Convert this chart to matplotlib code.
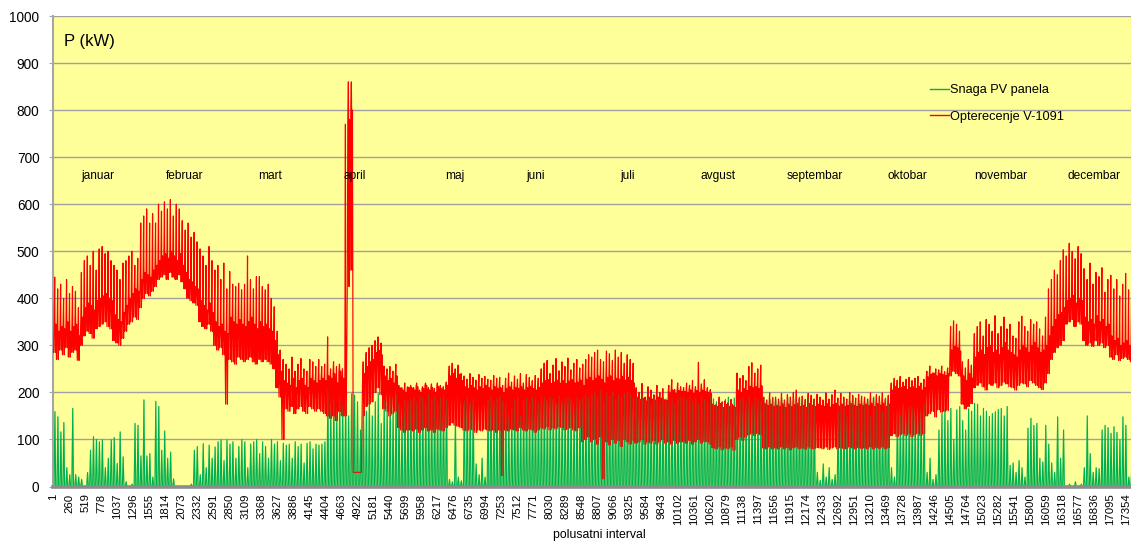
import matplotlib

matplotlib.use("Agg")
import matplotlib.pyplot as plt
import numpy as np
from matplotlib.lines import Line2D

plt.rcParams["font.family"] = ["Liberation Sans", "DejaVu Sans"]

# Daily load of V-1091 (kW): night minimum, daytime level, midday peak
load_night = [
    # jan
    285, 270, 290, 280, 295, 275, 285, 290, 268, 300, 320, 330, 325, 315, 335, 340,
    345, 350, 340, 335, 310, 305, 300, 315, 330, 345, 350, 360, 355, 380, 400,
    # feb
    410, 405, 415, 425, 440, 445, 450, 440, 455, 445, 440, 450, 435, 420, 400, 395,
    390, 385, 350, 340, 335, 345, 330, 300, 290, 295, 280, 175,
    # mar
    270, 265, 260, 275, 270, 265, 270, 275, 265, 260, 270, 265, 270, 265, 260, 250,
    210, 190, 100, 165, 160, 170, 155, 165, 170, 160, 155, 170, 165, 160, 165,
    # apr
    160, 155, 150, 145, 150, 140, 160, 150, 150, 425, 460, 30, 30, 30, 150, 170,
    175, 180, 200, 210, 195, 165, 160, 150, 155, 160, 125, 120, 115, 120,
    # may
    120, 118, 122, 115, 120, 125, 118, 120, 115, 122, 120, 118, 125, 130, 135, 130,
    128, 125, 120, 118, 122, 120, 115, 120, 118, 122, 120, 118, 120, 115, 120,
    # jun
    23, 120, 118, 122, 120, 118, 125, 120, 118, 122, 120, 115, 120, 125, 122, 127,
    120, 125, 122, 127, 125, 120, 122, 125, 120, 118, 125, 95, 100, 105,
    # jul
    95, 100, 90, 105, 16, 95, 88, 100, 92, 98, 85, 100, 95, 90, 98, 92,
    95, 100, 90, 95, 92, 98, 90, 95, 100, 92, 95, 90, 98, 92, 95,
    # aug
    95, 92, 98, 90, 95, 100, 92, 96, 95, 90, 82, 80, 84, 78, 82, 80,
    84, 77, 100, 105, 98, 105, 110, 112, 108, 113, 110, 82, 80, 84, 80,
    # sep
    82, 80, 84, 80, 83, 78, 82, 84, 80, 82, 79, 84, 81, 80, 83, 82,
    80, 84, 79, 82, 84, 80, 83, 81, 80, 84, 82, 80, 83, 81,
    # oct
    82, 80, 84, 80, 83, 81, 84, 80, 82, 108, 112, 106, 110, 113, 108, 112,
    106, 110, 113, 108, 112, 150, 155, 160, 148, 163, 158, 160, 162, 235, 245,
    # nov
    240, 235, 175, 165, 170, 176, 210, 215, 220, 212, 205, 218, 215, 220, 210, 215,
    222, 218, 212, 210, 205, 215, 220, 218, 212, 225, 220, 215, 210, 206,
    # dec
    220, 240, 270, 285, 295, 300, 310, 345, 350, 355, 340, 350, 345, 310, 300, 305,
    298, 310, 300, 305, 295, 300, 275, 270, 280, 268, 272, 275, 270, 265, 270,
]

load_day = [
    # jan
    345, 330, 340, 335, 350, 330, 340, 345, 320, 360, 380, 390, 385, 375, 395, 400,
    405, 410, 400, 395, 365, 355, 350, 370, 385, 400, 410, 420, 415, 440, 455,
    # feb
    450, 445, 460, 470, 480, 490, 495, 485, 500, 490, 480, 495, 470, 455, 440, 435,
    425, 420, 395, 385, 375, 390, 370, 350, 340, 345, 330, 325,
    # mar
    360, 350, 345, 355, 345, 340, 350, 360, 345, 335, 350, 340, 345, 335, 330, 310,
    280, 245, 225, 220, 215, 230, 210, 225, 230, 215, 210, 230, 225, 220, 225,
    # apr
    230, 225, 235, 230, 240, 220, 245, 230, 235, 780, 800, 30, 30, 30, 240, 255,
    265, 270, 285, 290, 280, 235, 225, 230, 220, 235, 210, 205, 200, 210,
    # may
    210, 205, 212, 200, 208, 215, 205, 210, 200, 212, 208, 205, 215, 235, 240, 230,
    238, 225, 212, 208, 215, 210, 205, 212, 208, 215, 210, 205, 212, 208, 210,
    # jun
    200, 208, 212, 205, 210, 208, 212, 205, 210, 212, 208, 205, 210, 220, 225, 227,
    219, 222, 226, 220, 225, 219, 224, 227, 220, 222, 226, 215, 228, 232,
    # jul
    225, 230, 235, 228, 220, 232, 235, 225, 230, 228, 234, 226, 232, 225, 220, 190,
    185, 188, 182, 190, 186, 184, 190, 188, 185, 183, 200, 205, 198, 204, 202,
    # aug
    202, 200, 205, 198, 204, 200, 205, 202, 200, 198, 172, 170, 176, 168, 174, 170,
    175, 168, 205, 200, 208, 204, 213, 210, 212, 208, 214, 176, 172, 175, 170,
    # sep
    172, 170, 176, 168, 175, 170, 174, 177, 170, 172, 168, 176, 173, 170, 175, 172,
    170, 176, 169, 174, 177, 171, 175, 170, 172, 176, 173, 170, 175, 172,
    # oct
    175, 172, 177, 170, 176, 173, 177, 170, 175, 205, 212, 208, 210, 213, 206, 210,
    212, 208, 213, 205, 210, 233, 238, 241, 235, 240, 238, 236, 240, 290, 298,
    # nov
    295, 288, 235, 225, 240, 230, 275, 285, 290, 280, 295, 300, 285, 290, 280, 295,
    306, 290, 285, 280, 275, 290, 300, 295, 285, 300, 306, 295, 285, 290,
    # dec
    300, 320, 340, 355, 365, 370, 380, 395, 400, 406, 390, 400, 395, 360, 350, 355,
    345, 363, 350, 355, 340, 345, 320, 310, 315, 300, 305, 310, 300, 295, 305,
]

load_peak = [
    # jan
    445, 420, 430, 400, 440, 410, 425, 415, 380, 455, 480, 490, 470, 500, 460, 505,
    510, 495, 500, 480, 470, 460, 440, 475, 480, 490, 500, 470, 485, 560, 575,
    # feb
    590, 560, 580, 560, 600, 585, 605, 590, 610, 575, 600, 590, 565, 545, 560, 530,
    540, 520, 505, 490, 470, 510, 480, 460, 470, 440, 475, 420,
    # mar
    457, 430, 425, 432, 418, 430, 490, 440, 420, 446, 446, 425, 418, 430, 400, 382,
    330, 290, 270, 260, 250, 275, 245, 260, 272, 250, 245, 270, 265, 255, 270,
    # apr
    255, 260, 318, 250, 265, 255, 260, 250, 770, 860, 860, 30, 30, 30, 265, 285,
    295, 300, 310, 318, 305, 256, 250, 255, 245, 260, 215, 210, 220, 212,
    # may
    215, 210, 220, 205, 212, 220, 210, 218, 208, 220, 215, 212, 222, 256, 262, 250,
    258, 240, 235, 228, 240, 232, 226, 238, 230, 234, 228, 226, 236, 230, 232,
    # jun
    215, 230, 241, 222, 235, 228, 240, 220, 238, 232, 225, 236, 230, 250, 262, 268,
    240, 258, 272, 246, 265, 255, 273, 248, 262, 270, 252, 260, 270, 280,
    # jul
    275, 285, 290, 270, 265, 288, 282, 268, 290, 275, 285, 262, 280, 270, 262, 210,
    200, 219, 190, 212, 205, 195, 215, 200, 208, 184, 215, 227, 206, 220, 212,
    # aug
    210, 220, 215, 225, 212, 264, 218, 227, 210, 206, 176, 175, 190, 180, 182, 178,
    185, 172, 241, 230, 236, 225, 255, 263, 241, 250, 258, 190, 184, 199, 188,
    # sep
    190, 186, 198, 184, 195, 190, 200, 205, 188, 192, 185, 198, 194, 186, 196, 190,
    184, 199, 186, 195, 205, 188, 198, 190, 186, 200, 194, 188, 196, 192,
    # oct
    190, 186, 199, 188, 195, 192, 199, 186, 194, 220, 230, 226, 234, 222, 228, 232,
    225, 230, 234, 220, 228, 245, 256, 240, 250, 248, 256, 244, 252, 340, 352,
    # nov
    345, 330, 265, 252, 270, 258, 325, 340, 350, 320, 355, 345, 330, 363, 325, 340,
    360, 335, 345, 320, 315, 350, 362, 340, 330, 355, 345, 350, 335, 320,
    # dec
    360, 420, 440, 460, 450, 480, 503, 490, 517, 500, 484, 510, 495, 463, 440, 475,
    430, 455, 446, 465, 413, 440, 449, 420, 440, 405, 430, 453, 418, 400, 425,
]

# Daily midday maximum of the PV panels (kW)
pv_peak = [
    # jan
    159, 148, 116, 136, 40, 25, 166, 25, 20, 15, 0, 30, 77, 106, 100, 95,
    99, 40, 60, 99, 104, 49, 116, 63, 10, 0, 5, 134, 130, 65, 184,
    # feb
    65, 70, 20, 181, 170, 77, 118, 60, 73, 16, 0, 0, 0, 0, 0, 5,
    77, 85, 25, 91, 40, 88, 60, 84, 95, 99, 55, 99,
    # mar
    90, 95, 60, 85, 100, 95, 40, 90, 95, 100, 70, 95, 85, 60, 100, 90,
    95, 55, 92, 88, 90, 60, 95, 85, 90, 50, 92, 95, 80, 90, 88,
    # apr
    90, 95, 205, 160, 185, 150, 190, 170, 190, 150, 197, 194, 180, 120, 176, 160,
    190, 150, 180, 197, 134, 185, 170, 190, 160, 195, 175, 140, 185, 180,
    # may
    185, 190, 180, 192, 188, 175, 195, 185, 190, 180, 188, 192, 185, 15, 10, 140,
    20, 12, 182, 190, 178, 186, 48, 25, 60, 20, 185, 190, 180, 188, 192,
    # jun
    180, 175, 140, 165, 185, 190, 150, 182, 188, 175, 190, 185, 178, 192, 188, 180,
    190, 186, 175, 192, 180, 188, 190, 185, 160, 190, 182, 188, 195, 190,
    # jul
    195, 200, 190, 205, 180, 198, 192, 200, 185, 195, 190, 198, 200, 195, 188, 190,
    185, 192, 180, 188, 176, 190, 185, 178, 190, 186, 180, 188, 176, 185, 190,
    # aug
    190, 185, 192, 180, 188, 176, 190, 185, 178, 190, 186, 180, 188, 176, 185, 190,
    180, 188, 176, 185, 190, 180, 188, 176, 190, 185, 180, 188, 176, 185, 190,
    # sep
    185, 180, 188, 176, 190, 182, 186, 178, 190, 184, 180, 188, 176, 185, 30, 13,
    48, 20, 40, 15, 25, 160, 175, 185, 148, 180, 190, 170, 182, 176,
    # oct
    176, 185, 150, 190, 170, 180, 160, 188, 175, 40, 20, 160, 150, 176, 134, 170,
    165, 150, 140, 160, 176, 30, 60, 15, 25, 120, 156, 163, 140, 166, 100,
    # nov
    163, 170, 140, 120, 165, 160, 177, 175, 150, 166, 160, 149, 155, 159, 164, 166,
    150, 170, 45, 50, 30, 55, 40, 20, 124, 145, 130, 134, 60, 52,
    # dec
    130, 90, 50, 30, 148, 60, 120, 0, 5, 0, 10, 0, 5, 40, 150, 70,
    30, 40, 38, 120, 130, 125, 113, 127, 115, 99, 148, 130, 20, 40, 149,
]

months = ["januar", "februar", "mart", "april", "maj", "juni", "juli",
          "avgust", "septembar", "oktobar", "novembar", "decembar"]
month_label_x = [724, 2132, 3507, 4882, 6500, 7811, 9299,
                 10755, 12325, 13813, 15334, 16839]

PER_DAY = 48  # half-hour intervals in a day
n_days = len(load_night)
day_start = np.arange(n_days) * PER_DAY + 1

# load over a day: night low, morning level, midday peak, afternoon level,
# evening dip, evening level
load_x = (day_start[:, None] + np.array([4, 13, 22, 26, 33, 40])).ravel()
load_y = np.column_stack([load_night, load_day, load_peak, load_day,
                          load_night, load_day]).ravel()
# pv: zero at dawn -> midday maximum -> zero at dusk
pv_x = (day_start[:, None] + np.array([12, 26, 38])).ravel()
pv_y = np.column_stack([np.zeros(n_days), pv_peak, np.zeros(n_days)]).ravel()

W, H = 1131, 542
fig = plt.figure(figsize=(W / 100, H / 100), dpi=100)
ax = fig.add_axes([53.3 / W, 55.5 / H, (W - 53.3) / W, 470.5 / H])
ax.set_facecolor("#FFFF99")

ax.plot(pv_x, pv_y, color="#00B050", lw=0.8, zorder=2)
ax.plot(load_x, load_y, color="#FF0000", lw=0.85, zorder=3)
# faint second pass so the pv comb still shows through the dense load band
ax.plot(pv_x, pv_y, color="#00B050", lw=0.8, alpha=0.35, zorder=3.5)

ax.set_xlim(0.5, 17438)
ax.set_ylim(0, 1000)
ax.set_yticks(np.arange(0, 1001, 100))
xt = np.arange(1, n_days * PER_DAY + 1, 259)
ax.set_xticks(xt)
ax.set_xticklabels([str(v) for v in xt], rotation=90, fontsize=8.2)

ax.yaxis.grid(True, color="#A0A0A0", lw=1.0)
ax.set_axisbelow(True)
for side in ("top", "right"):
    ax.spines[side].set_visible(False)
ax.spines["left"].set_color("#A6A6A6")
ax.spines["left"].set_linewidth(1.5)
ax.spines["bottom"].set_color("#8C8C8C")
ax.spines["bottom"].set_linewidth(2.6)
ax.spines["bottom"].set_zorder(4)
ax.tick_params(axis="y", length=3, color="#A6A6A6", labelsize=9.8, pad=7)
ax.tick_params(axis="x", length=0, pad=5)

for name, mx in zip(months, month_label_x):
    ax.text(mx, 660, name, ha="center", va="center", fontsize=8.6, zorder=6)

ax.text(0.0099, 0.945, "P (kW)", transform=ax.transAxes, ha="left", va="center",
        fontsize=12)

handles = [Line2D([], [], color="#00B050", lw=1.0),
           Line2D([], [], color="#FF0000", lw=1.0)]
ax.legend(handles, ["Snaga PV panela", "Opterecenje V-1091"], loc="upper left",
          bbox_to_anchor=(0.8135, 0.855), frameon=False, fontsize=9.2,
          handlelength=1.45, handletextpad=0.1, labelspacing=1.15,
          borderpad=0, borderaxespad=0)

fig.text(599 / W, 1 - 535 / H, "polusatni interval", ha="center", va="center",
         fontsize=8.8)

fig.savefig("out.png", dpi=100)
